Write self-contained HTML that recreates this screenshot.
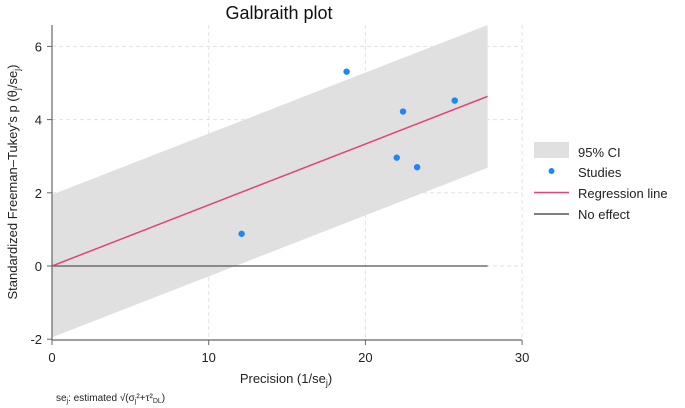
<!DOCTYPE html>
<html><head><meta charset="utf-8"><style>
body{margin:0;background:#fff;}
svg{display:block;font-family:"Liberation Sans",sans-serif;}
</style></head><body>
<svg id="chart" width="685" height="408" viewBox="0 0 685 408">
<text x="279" y="19" font-size="18" text-anchor="middle" fill="#111">Galbraith plot</text>
<g id="grid"></g>
<g id="band"></g>
<g id="lines"></g>
<g id="points"></g>
<g id="axes"></g>
<text transform="translate(17,182) rotate(-90)" font-size="13" text-anchor="middle" fill="#222">Standardized Freeman–Tukey's p (θ<tspan font-size="9" dy="3">j</tspan><tspan dy="-3">/se</tspan><tspan font-size="9" dy="3">j</tspan><tspan dy="-3">)</tspan></text>
<text x="286" y="383" font-size="13" text-anchor="middle" fill="#222">Precision (1/se<tspan font-size="9" dy="3">j</tspan><tspan dy="-3">)</tspan></text>
<text x="56" y="401" font-size="10" fill="#222">se<tspan font-size="7" dy="2">j</tspan><tspan dy="-2">: estimated √(σ</tspan><tspan font-size="7" dy="2">j</tspan><tspan dy="-2">²+τ²</tspan><tspan font-size="7" dy="2">DL</tspan><tspan dy="-2">)</tspan></text>
<g>
<rect x="534" y="142" width="35" height="16" fill="#e0e0e0"/>
<text x="578" y="157" font-size="13" fill="#222">95% CI</text>
<circle cx="551.5" cy="171" r="3" fill="#1f87f5"/>
<text x="578" y="177" font-size="13" fill="#222">Studies</text>
<line x1="534" y1="192.5" x2="569" y2="192.5" stroke="#e0457b" stroke-width="1.5"/>
<text x="578" y="198" font-size="13" fill="#222">Regression line</text>
<line x1="534" y1="214" x2="569" y2="214" stroke="#555" stroke-width="1.5"/>
<text x="578" y="219" font-size="13" fill="#222">No effect</text>
</g>
</svg>
<script>
const studyX=[12.1,18.8,22.4,22.0,23.3,25.7];
const studyY=[0.88,5.31,4.22,2.96,2.70,4.52];
const xMax=27.8;
const slope=0.1667;
const ciHalf=1.95;
const xTicks=[0,10,20,30];
const yTicks=[-2,0,2,4,6];
const NS="http://www.w3.org/2000/svg";
function sx(v){return 52+v*15.67;}
function sy(v){return 266-v*36.6;}
function mk(tag,attrs,parent){const e=document.createElementNS(NS,tag);for(const k in attrs)e.setAttribute(k,attrs[k]);document.getElementById(parent).appendChild(e);return e;}
xTicks.forEach(t=>{if(t>0){const g=mk('line',{x1:sx(t),x2:sx(t),y1:25,y2:340,stroke:'#e2e2e2','stroke-dasharray':'4,3'},'grid');

}});
yTicks.forEach(t=>{if(t>-2){const g=mk('line',{x1:52,x2:522,y1:sy(t),y2:sy(t),stroke:'#e2e2e2','stroke-dasharray':'4,3'},'grid');

}});
const band=mk('polygon',{points:`${sx(0)},${sy(ciHalf)} ${sx(xMax)},${sy(slope*xMax+ciHalf)} ${sx(xMax)},${sy(slope*xMax-ciHalf)} ${sx(0)},${sy(-ciHalf)}`,fill:'#e0e0e0'},'band');


const ne=mk('line',{x1:sx(0),x2:sx(xMax),y1:sy(0),y2:sy(0),stroke:'#555','stroke-width':1.3},'lines');


const rl=mk('line',{x1:sx(0),x2:sx(xMax),y1:sy(0),y2:sy(slope*xMax),stroke:'#e0457b','stroke-width':1.5},'lines');


studyX.forEach((x,i)=>{const c=mk('circle',{cx:sx(x),cy:sy(studyY[i]),r:3.2,fill:'#1f87f5'},'points');

});
const ya=mk('line',{x1:52,x2:52,y1:25,y2:340,stroke:'#666','stroke-width':1.2},'axes');


const xa=mk('line',{x1:52,x2:522,y1:340,y2:340,stroke:'#666','stroke-width':1.2},'axes');


yTicks.forEach(t=>{mk('line',{x1:47,x2:52,y1:sy(t),y2:sy(t),stroke:'#666'},'axes');
const l=mk('text',{x:42,y:sy(t)+5,'font-size':13,'text-anchor':'end',fill:'#222'},'axes');l.textContent=t;

});
xTicks.forEach(t=>{mk('line',{x1:sx(t),x2:sx(t),y1:340,y2:345,stroke:'#666'},'axes');
const l=mk('text',{x:sx(t),y:362,'font-size':13,'text-anchor':'middle',fill:'#222'},'axes');l.textContent=t;

});
</script>
</body></html>
